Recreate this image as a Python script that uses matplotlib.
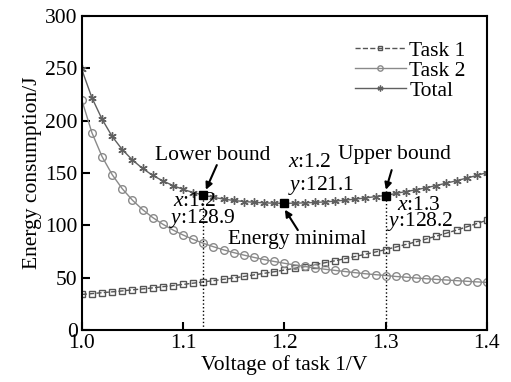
import numpy as np
import matplotlib
matplotlib.use('Agg')
import matplotlib.pyplot as plt

plt.rcParams['font.family'] = ['Liberation Serif', 'DejaVu Serif']
plt.rcParams['mathtext.fontset'] = 'custom'
plt.rcParams['mathtext.rm'] = 'Liberation Serif'
plt.rcParams['mathtext.it'] = 'Liberation Serif:italic'

voltage = np.round(np.arange(1.0, 1.4001, 0.01), 2)
task1 = [34.0, 34.8, 35.7, 36.5, 37.4, 38.4, 39.3, 40.3, 41.4, 42.5,
         43.6, 44.8, 46.0, 47.2, 48.5, 49.8, 51.2, 52.7, 54.2, 55.7,
         57.3, 59.0, 60.7, 62.5, 64.3, 66.2, 68.2, 70.3, 72.4, 74.6,
         76.9, 79.3, 81.8, 84.3, 87.0, 89.7, 92.6, 95.5, 98.6, 101.7, 105.0]
task2 = [219.9, 188.6, 165.8, 148.5, 135.0, 124.1, 115.1, 107.5, 101.1, 95.6,
         90.8, 86.6, 82.9, 79.6, 76.6, 74.0, 71.6, 69.4, 67.3, 65.5,
         63.8, 62.2, 60.8, 59.4, 58.1, 57.0, 55.9, 54.8, 53.8, 52.9,
         52.1, 51.2, 50.5, 49.7, 49.0, 48.4, 47.8, 47.2, 46.6, 46.0, 45.5]
total = [249.0, 222.0, 201.5, 185.0, 172.4, 162.5, 154.4, 147.8, 142.5, 138.1,
         134.4, 131.4, 128.9, 126.8, 125.1, 123.8, 122.8, 122.1, 121.5, 121.2,
         121.1, 121.2, 121.5, 121.9, 122.4, 123.2, 124.1, 125.1, 126.2, 127.5,
         128.6, 130.5, 132.3, 134.0, 136.0, 138.1, 140.4, 142.7, 145.2, 147.7, 150.5]

# key points: lower bound, minimum, upper bound
key_x = [1.12, 1.2, 1.3]
key_y = [128.9, 121.1, 128.2]

fig = plt.figure(figsize=(5.11, 3.82), dpi=100)
ax = fig.add_axes([0.160, 0.136, 0.793, 0.822])

ax.plot(voltage, task1, '--', color='#555555', lw=1.0, marker='s', ms=4.5,
        mfc='none', mec='#555555', mew=1.0, label='Task 1')
ax.plot(voltage, task2, '-', color='#8a8a8a', lw=1.0, marker='o', ms=5.5,
        mfc='none', mec='#8a8a8a', mew=1.0, label='Task 2')
ax.plot(voltage, total, '-', color='#606060', lw=1.0, marker=(6, 2, 0), ms=6,
        mec='#606060', mew=1.0, label='Total')

ax.plot([key_x[0], key_x[0]], [0, key_y[0]], ':', color='k', lw=1.0)
ax.plot([key_x[2], key_x[2]], [0, key_y[2]], ':', color='k', lw=1.0)
ax.plot(key_x, key_y, 's', color='k', ms=6, zorder=5)

fs = 15.5
arrow = dict(arrowstyle='-|>', color='k', lw=1.5, mutation_scale=10,
             shrinkA=0, shrinkB=0)

ax.text(1.1294, 167, 'Lower bound', fontsize=fs, va='center', ha='center')
ax.annotate('', xy=(1.1225, 134), xytext=(1.1333, 157.6), arrowprops=arrow)
ax.text(1.0899, 122.5, '$x$:1.2', fontsize=fs, va='center', ha='left')
ax.text(1.0859, 107, '$y$:128.9', fontsize=fs, va='center', ha='left')

ax.text(1.2035, 159.8, '$x$:1.2', fontsize=fs, va='center', ha='left')
ax.text(1.2035, 138.5, '$y$:121.1', fontsize=fs, va='center', ha='left')

ax.text(1.2812, 86.9, 'Energy minimal', fontsize=fs, va='center', ha='right')
ax.annotate('', xy=(1.2005, 115), xytext=(1.2133, 95.5), arrowprops=arrow)

ax.text(1.2528, 168.1, 'Upper bound', fontsize=fs, va='center', ha='left')
ax.annotate('', xy=(1.3002, 134), xytext=(1.3059, 152.8), arrowprops=arrow)
ax.text(1.3108, 119.4, '$x$:1.3', fontsize=fs, va='center', ha='left')
ax.text(1.3009, 103.4, '$y$:128.2', fontsize=fs, va='center', ha='left')

ax.set_xlim(1.0, 1.4)
ax.set_ylim(0, 300)
ax.set_xticks([1.0, 1.1, 1.2, 1.3, 1.4])
ax.set_xticklabels(['1.0', '1.1', '1.2', '1.3', '1.4'])
ax.set_yticks([0, 50, 100, 150, 200, 250, 300])
ax.tick_params(direction='in', length=6, width=1.5, labelsize=fs, pad=3)
for s in ax.spines.values():
    s.set_linewidth(1.5)

ax.set_xlabel('Voltage of task 1/V', fontsize=fs, labelpad=1)
ax.set_ylabel('Energy consumption/J', fontsize=fs, labelpad=2)

ax.legend(loc='upper right', frameon=False, fontsize=fs, handlelength=2.4,
          handletextpad=0.15, labelspacing=0.0, markerscale=0.7,
          borderaxespad=0.3, bbox_to_anchor=(0.985, 0.97))

fig.savefig('out.png', dpi=100)
